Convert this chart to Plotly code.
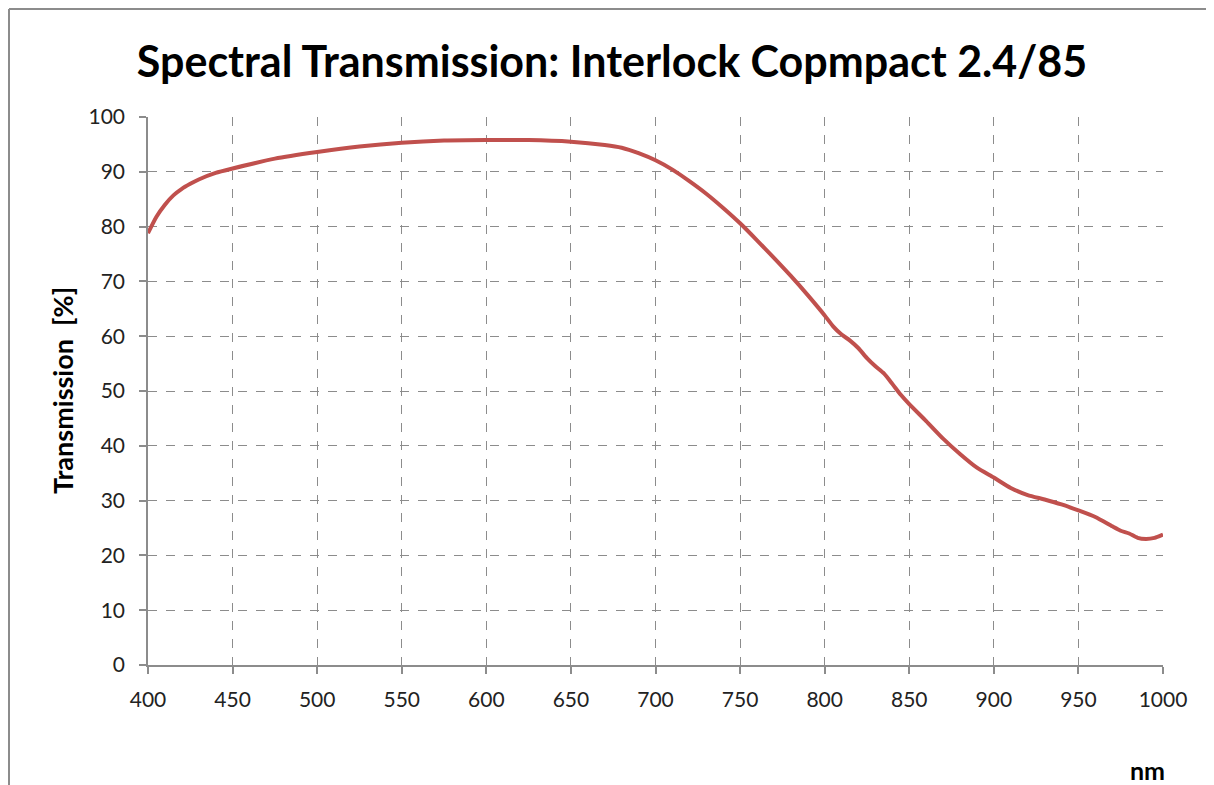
import plotly.graph_objects as go

wavelength_nm = [400, 405, 410, 415, 420, 425, 430, 440, 450, 475, 500, 525, 550, 575, 600, 625, 650,
                 670, 680, 690, 700, 710, 720, 730, 740, 750, 760, 770, 780, 790, 800,
                 805, 810, 815, 820, 825, 830, 835, 840, 845, 850, 860, 870, 880, 890,
                 900, 910, 920, 930, 940, 950, 960, 970, 975, 980, 985, 990, 995, 1000]
transmission_pct = [78.8, 81.8, 84.0, 85.7, 86.9, 87.8, 88.6, 89.8, 90.6, 92.4, 93.6, 94.6, 95.3, 95.7, 95.8, 95.8, 95.5,
                    94.9, 94.4, 93.4, 92.1, 90.4, 88.3, 86.0, 83.4, 80.6, 77.5, 74.3, 71.0, 67.5, 63.8,
                    61.8, 60.3, 59.2, 57.8, 56.0, 54.5, 53.2, 51.3, 49.3, 47.6, 44.5, 41.3, 38.5, 36.0,
                    34.2, 32.3, 31.0, 30.2, 29.3, 28.2, 27.0, 25.3, 24.5, 24.0, 23.2, 23.0, 23.2, 23.8]

x_ticks = list(range(400, 1001, 50))
y_ticks = list(range(0, 101, 10))

title_text = "Spectral Transmission: Interlock Copmpact 2.4/85"
y_title = "Transmission  [%]"
x_title = "nm"

FONT = "Lato"

# page has an 8px body margin; the figure is laid out to compensate
W, H = 1206, 777
L, T = 140, 109
PW, PH = 1015, 548

fig = go.Figure()
fig.add_trace(go.Scatter(
    x=wavelength_nm, y=transmission_pct, mode="lines",
    line=dict(color="#C0504D", width=4, shape="spline", smoothing=0.6),
    showlegend=False, hoverinfo="x+y",
))

axis_common = dict(
    showgrid=True, gridcolor="#8c8c8c", griddash="dash", gridwidth=1,
    showline=True, linecolor="#8c8c8c", linewidth=1.5,
    ticks="outside", ticklen=7, tickcolor="#8c8c8c", tickwidth=1.5,
    tickfont=dict(family=FONT, size=21, color="#222222"),
    zeroline=False, fixedrange=True,
)

fig.update_layout(
    width=W, height=H,
    margin=dict(l=L, r=W - L - PW, t=T, b=H - T - PH),
    paper_bgcolor="white", plot_bgcolor="white",
    font=dict(family=FONT, color="#222222"),
    title=dict(text="<b>" + title_text + "</b>", x=(612 - 8) / W, y=1 - (62 - 8) / H,
               xref="container", yref="container", xanchor="center", yanchor="middle",
               font=dict(family=FONT, size=43, color="#000000")),
    xaxis=dict(range=[400, 1000], tickvals=x_ticks, ticktext=[str(v) for v in x_ticks],
               ticklabelstandoff=8, **axis_common),
    yaxis=dict(range=[0, 100], tickvals=y_ticks, ticktext=[str(v) for v in y_ticks],
               ticklabelstandoff=10, **axis_common),
    annotations=[
        dict(text="<b>" + y_title + "</b>", x=(62 - 148) / PW, y=0.5, xref="paper", yref="paper",
             textangle=-90, showarrow=False, xanchor="center", yanchor="middle",
             font=dict(family=FONT, size=27, color="#000000")),
        dict(text="<b>" + x_title + "</b>", x=(1147 - 148) / PW, y=-(770 - 665) / PH,
             xref="paper", yref="paper", showarrow=False, xanchor="center", yanchor="middle",
             font=dict(family=FONT, size=25, color="#000000")),
    ],
    shapes=[
        dict(type="line", xref="paper", yref="paper",
             x0=(9 - 148) / PW, x1=(9 - 148) / PW, y0=1 + (117 - 9) / PH, y1=-0.5,
             line=dict(color="#8c8c8c", width=2)),
        dict(type="line", xref="paper", yref="paper",
             x0=(9 - 148) / PW, x1=1.2, y0=1 + (117 - 9) / PH, y1=1 + (117 - 9) / PH,
             line=dict(color="#8c8c8c", width=2)),
    ],
)

fig.write_html("out.html")
